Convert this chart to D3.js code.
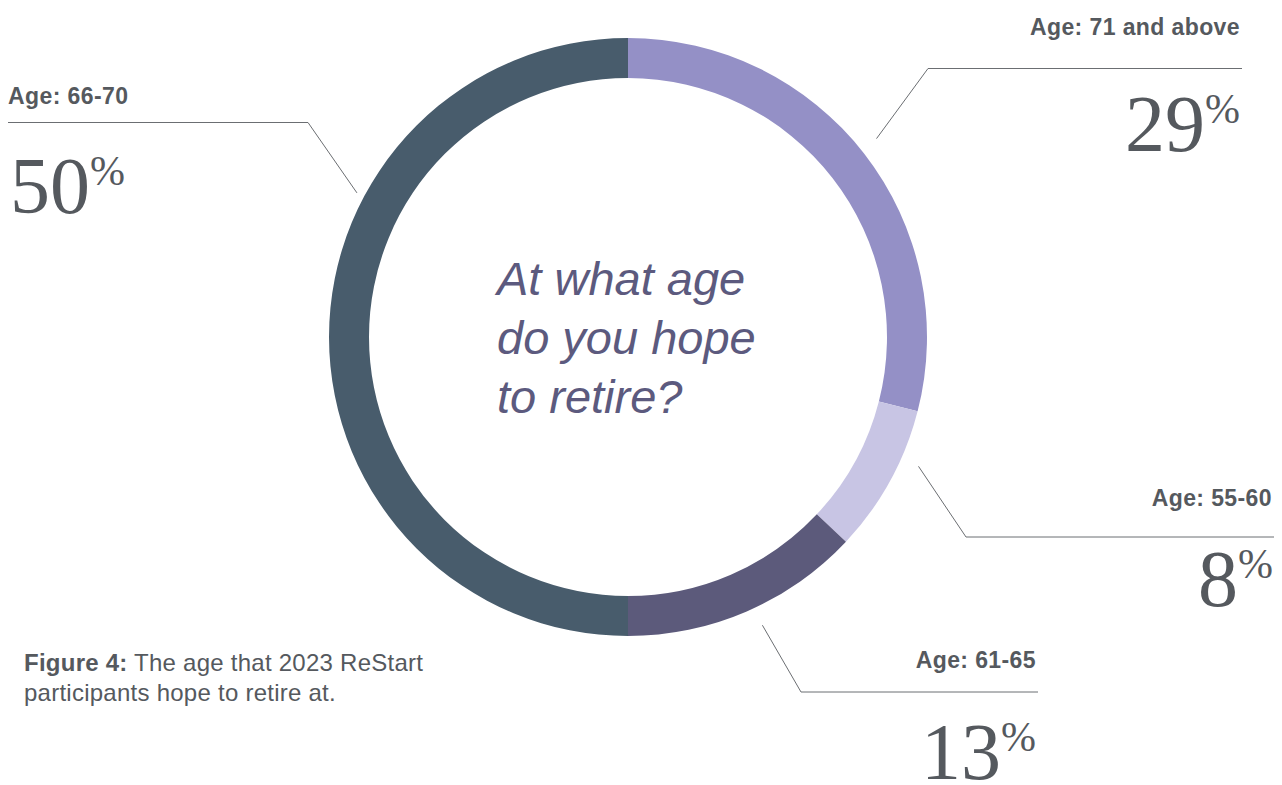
<!DOCTYPE html>
<html>
<head>
<meta charset="utf-8">
<script src="https://cdn.jsdelivr.net/npm/d3@7"></script>
<style>
  html, body { margin: 0; padding: 0; background: #ffffff; }
  svg { display: block; }
</style>
</head>
<body>
<svg id="chart" width="1282" height="785"></svg>
<script>
// Survey answers: share of participants by hoped-for retirement age
const categories = ["Age: 71 and above", "Age: 55-60", "Age: 61-65", "Age: 66-70"];
const shares = [29, 8, 13, 50];
const sliceColors = ["#9490c6", "#c8c5e4", "#5c5a7b", "#485c6c"];
const question = ["At what age", "do you hope", "to retire?"];
const captionBold = "Figure 4:";
const captionLines = [" The age that 2023 ReStart", "participants hope to retire at."];

// Callout layout for each slice: leader start angle (deg, clockwise from top),
// leader start radius, elbow point, end of the rule, and text anchoring.
const callouts = [
  { angle: 51.4, r: 318, elbow: [928, 68.5], endX: 1242, anchor: "end", textX: 1240, labelY: 35, valueX: 1240, valueY: 151 },
  { angle: 114, r: 318, elbow: [966, 537], endX: 1274, anchor: "end", textX: 1272, labelY: 506, valueX: 1273, valueY: 606 },
  { angle: 155, r: 318, elbow: [801, 692], endX: 1038, anchor: "end", textX: 1036, labelY: 668, valueX: 1036, valueY: 779 },
  { angle: 298, r: 307, elbow: [308, 122.5], endX: 8, anchor: "start", textX: 8, labelY: 104, valueX: 10, valueY: 213 }
];

const svg = d3.select("#chart");
const cx = 628, cy = 337;
const outerR = 299, innerR = 259;

const pie = d3.pie().sort(null).value(d => d.value).startAngle(0).endAngle(2 * Math.PI);
const arc = d3.arc().innerRadius(innerR).outerRadius(outerR);
const color = d3.scaleOrdinal().domain(categories).range(sliceColors);

const data = categories.map((c, i) => ({ label: c, value: shares[i] }));
const arcs = pie(data);

const ring = svg.append("g").attr("transform", `translate(${cx},${cy})`);
ring.selectAll("path")
  .data(arcs)
  .join("path")
  .attr("d", arc)
  .attr("fill", d => color(d.data.label));

// Question in the middle of the ring
const q = svg.append("text")
  .attr("x", 497)
  .attr("y", 295)
  .attr("font-family", "'Liberation Sans', Arial, sans-serif")
  .attr("font-style", "italic")
  .attr("font-size", 47)
  .attr("fill", "#5c5a7e");
q.selectAll("tspan")
  .data(question)
  .join("tspan")
  .attr("x", 497)
  .attr("dy", (d, i) => i === 0 ? 0 : 59)
  .text(d => d);

// Leader lines, labels and values
const rad = Math.PI / 180;
const notes = svg.append("g");
arcs.forEach((a, i) => {
  const c = callouts[i];
  const sx = cx + c.r * Math.sin(c.angle * rad);
  const sy = cy - c.r * Math.cos(c.angle * rad);
  notes.append("path")
    .attr("d", d3.line()([[sx, sy], c.elbow, [c.endX, c.elbow[1]]]))
    .attr("fill", "none")
    .attr("stroke", "#6b6e72")
    .attr("stroke-width", 1);

  notes.append("text")
    .attr("x", c.textX)
    .attr("y", c.labelY)
    .attr("text-anchor", c.anchor)
    .attr("font-family", "'Liberation Sans', Arial, sans-serif")
    .attr("font-weight", "bold")
    .attr("font-size", 23)
    .attr("letter-spacing", 0.4)
    .attr("fill", "#55595e")
    .text(a.data.label);

  const v = notes.append("text")
    .attr("x", c.valueX)
    .attr("y", c.valueY)
    .attr("text-anchor", c.anchor)
    .attr("font-family", "'Liberation Serif', 'Times New Roman', serif")
    .attr("fill", "#55595e");
  v.append("tspan").attr("font-size", 80).text(a.data.value);
  v.append("tspan").attr("font-size", 42).attr("dy", -28).text("%");
});

// Caption
const cap = svg.append("text")
  .attr("x", 24)
  .attr("y", 671)
  .attr("font-family", "'Liberation Sans', Arial, sans-serif")
  .attr("font-size", 24)
  .attr("letter-spacing", 0.25)
  .attr("fill", "#55595e");
cap.append("tspan").attr("font-weight", "bold").text(captionBold);
cap.append("tspan").text(captionLines[0]);
svg.append("text")
  .attr("x", 24)
  .attr("y", 701)
  .attr("font-family", "'Liberation Sans', Arial, sans-serif")
  .attr("font-size", 24)
  .attr("letter-spacing", 0.25)
  .attr("fill", "#55595e")
  .text(captionLines[1]);
</script>
</body>
</html>
